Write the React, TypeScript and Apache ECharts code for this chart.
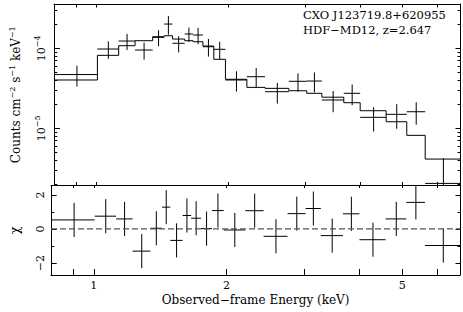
import React, { useEffect, useRef } from 'react';
import * as echarts from 'echarts';

// Energy bins (keV)
const binLo = [0.80, 1.005, 1.124, 1.225, 1.344, 1.428, 1.491, 1.590, 1.662, 1.750, 1.853, 1.970, 2.205, 2.426, 2.749, 3.02, 3.27, 3.67, 4.0, 4.585, 5.11, 5.63];
const binHi = [1.005, 1.124, 1.225, 1.344, 1.428, 1.491, 1.590, 1.662, 1.750, 1.853, 1.970, 2.205, 2.426, 2.749, 3.02, 3.27, 3.67, 4.0, 4.585, 5.11, 5.63, 6.76];
// Observed flux density (counts cm^-2 s^-1 keV^-1)
const flux = [4.7e-5, 9.8e-5, 1.233e-4, 9.52e-5, 1.372e-4, 2.01e-4, 1.155e-4, 1.51e-4, 1.466e-4, 1.047e-4, 9.72e-5, 4.02e-5, 4.42e-5, 2.87e-5, 3.87e-5, 3.9e-5, 2.26e-5, 2.74e-5, 1.372e-5, 1.496e-5, 1.612e-5, 2.05e-6];
const fluxErr = [1.37e-5, 2.41e-5, 2.8e-5, 2.3e-5, 3.1e-5, 5.3e-5, 2.65e-5, 3.1e-5, 3.4e-5, 2.6e-5, 2.37e-5, 1.14e-5, 1.24e-5, 0.83e-5, 1.0e-5, 1.09e-5, 0.67e-5, 0.79e-5, 0.46e-5, 0.51e-5, 0.5e-5, 2.17e-6];
// Folded model
const model = [4.02e-5, 8.17e-5, 1.078e-4, 1.245e-4, 1.396e-4, 1.437e-4, 1.306e-4, 1.245e-4, 1.209e-4, 1.068e-4, 7.29e-5, 4.1e-5, 3.25e-5, 3.16e-5, 2.95e-5, 2.74e-5, 2.45e-5, 2.09e-5, 1.66e-5, 1.209e-5, 8.17e-6, 4.13e-6];
// Residuals
const chi = [0.53, 0.75, 0.59, -1.30, 0.04, 1.28, -0.67, 0.79, 0.63, 0.02, 1.08, -0.06, 1.07, -0.43, 0.9, 1.2, -0.39, 0.89, -0.63, 0.59, 1.56, -0.97];
const chiErr = [1, 1, 1, 1, 1, 1, 1, 1, 1, 1, 1, 1, 1, 1, 1, 1, 1, 1, 1, 1, 1, 1];

// Axis ticks
const xTicks = [0.9, 1, 2, 3, 4, 5, 6];
const xLabels = [1, 2, 5];
const yMajor = [1e-5, 1e-4];
const yMinor = [2e-6, 3e-6, 4e-6, 5e-6, 6e-6, 7e-6, 8e-6, 9e-6, 2e-5, 3e-5, 4e-5, 5e-5, 6e-5, 7e-5, 8e-5, 9e-5, 2e-4, 3e-4];
const chiMajor = [-2, 0, 2];
const chiMinor = [-1, 1];

const X_MIN = 0.8;
const X_MAX = 6.76;
const Y_MIN = 1.93e-6;
const Y_MAX = 3.58e-4;
const C_MIN = -2.7;
const C_MAX = 2.55;

const FONT = 'DejaVu Serif';
const INK = '#000';

export default function App() {
  const ref = useRef<HTMLDivElement>(null);
  useEffect(() => {
    if (!ref.current) return;
    const chart = echarts.init(ref.current, null, { renderer: 'svg' });

    const grids = [
      { left: 51, top: 4, width: 409, height: 181.5 },
      { left: 51, top: 185.5, width: 409, height: 89.5 },
    ];

    const xAxis = (gridIndex: number, position: string, len: number, labels: boolean) => ({
      type: 'log', logBase: 10, gridIndex, position, min: X_MIN, max: X_MAX,
      axisLine: { show: true, onZero: false, lineStyle: { color: INK, width: 1 } },
      axisTick: { show: true, inside: true, length: len, customValues: xTicks, lineStyle: { color: INK, width: 1 } },
      axisLabel: labels
        ? { show: true, customValues: xLabels, margin: 5, fontFamily: FONT, fontSize: 11, color: INK, formatter: (v: number) => String(Math.round(v)) }
        : { show: false },
      splitLine: { show: false },
      minorTick: { show: false },
      ...(labels ? {
        name: 'Observed\u2212frame Energy (keV)', nameLocation: 'middle', nameGap: 19,
        nameTextStyle: { fontFamily: FONT, fontSize: 12, color: INK },
      } : {}),
    });

    const supRich = { s: { fontFamily: FONT, fontSize: 8, color: INK, verticalAlign: 'top', lineHeight: 6 } };

    const logY = (position: string, ticks: number[], len: number, line: boolean, labels: boolean) => ({
      type: 'log', logBase: 10, gridIndex: 0, position, min: Y_MIN, max: Y_MAX,
      axisLine: { show: line, onZero: false, lineStyle: { color: INK, width: 1 } },
      axisTick: { show: true, inside: true, length: len, customValues: ticks, lineStyle: { color: INK, width: 1 } },
      axisLabel: labels ? {
        show: true, customValues: yMajor, rotate: 90, margin: 5,
        fontFamily: FONT, fontSize: 11, color: INK, lineHeight: 16,
        formatter: (v: number) => `10{s|\u2212${-Math.round(Math.log10(v))}}`,
        rich: supRich,
      } : { show: false },
      splitLine: { show: false },
      ...(labels ? {
        name: 'Counts cm{s|\u22122} s{s|\u22121} keV{s|\u22121}', nameLocation: 'middle', nameRotate: 90, nameGap: 30,
        nameTextStyle: { fontFamily: FONT, fontSize: 12, color: INK, lineHeight: 16, rich: supRich },
      } : {}),
    });

    const chiY = (position: string, ticks: number[], len: number, line: boolean, labels: boolean) => ({
      type: 'value', gridIndex: 1, position, min: C_MIN, max: C_MAX,
      axisLine: { show: line, onZero: false, lineStyle: { color: INK, width: 1 } },
      axisTick: { show: true, inside: true, length: len, customValues: ticks, lineStyle: { color: INK, width: 1 } },
      axisLabel: labels ? {
        show: true, customValues: chiMajor, rotate: 90, margin: 5,
        fontFamily: FONT, fontSize: 11, color: INK,
        formatter: (v: number) => (v < 0 ? '\u2212' + Math.abs(v) : String(v)),
      } : { show: false },
      splitLine: { show: false },
      ...(labels ? {
        name: '\u03c7', nameLocation: 'middle', nameRotate: 90, nameGap: 30,
        nameTextStyle: { fontFamily: FONT, fontSize: 13, color: INK },
      } : {}),
    });

    const crossItem = (yMin: number) => (params: any, api: any) => {
      const lo = api.value(0), hi = api.value(1), y = api.value(2), e = api.value(3);
      const c = (lo + hi) / 2;
      const a = api.coord([lo, y]);
      const b = api.coord([hi, y]);
      const t = api.coord([c, y + e]);
      const bl = y - e > yMin ? y - e : yMin;
      const u = api.coord([c, bl]);
      const st = { stroke: INK, lineWidth: 1 };
      return {
        type: 'group',
        children: [
          { type: 'line', shape: { x1: a[0], y1: a[1], x2: b[0], y2: b[1] }, style: st },
          { type: 'line', shape: { x1: t[0], y1: t[1], x2: u[0], y2: u[1] }, style: st },
        ],
      };
    };

    const dataItems = binLo.map((lo, i) => [lo, binHi[i], flux[i], fluxErr[i]]);
    const chiItems = binLo.map((lo, i) => [lo, binHi[i], chi[i], chiErr[i]]);
    const modelPts = binLo.map((lo, i) => [lo, model[i]]);
    modelPts.push([binHi[binHi.length - 1], model[model.length - 1]]);

    chart.setOption({
      animation: false,
      backgroundColor: '#fff',
      grid: grids,
      xAxis: [
        xAxis(0, 'bottom', 3.5, false),
        xAxis(0, 'top', 3.5, false),
        xAxis(1, 'bottom', 6, true),
        xAxis(1, 'top', 2.5, false),
      ],
      yAxis: [
        logY('left', yMajor, 6, true, true),
        logY('left', yMinor, 3.3, false, false),
        logY('right', yMajor, 4.5, true, false),
        logY('right', yMinor, 2.5, false, false),
        chiY('left', chiMajor, 5.7, true, true),
        chiY('left', chiMinor, 3.3, false, false),
        chiY('right', chiMajor, 4.5, true, false),
        chiY('right', chiMinor, 2.5, false, false),
      ],
      graphic: [
        {
          type: 'text', left: 303, top: 7,
          style: {
            text: 'CXO J123719.8+620955\nHDF\u2212MD12, z=2.647',
            font: `11.5px "${FONT}"`, fill: INK, lineHeight: 15,
          },
        },
      ],
      series: [
        {
          type: 'line', name: 'model', xAxisIndex: 0, yAxisIndex: 0, step: 'end',
          data: modelPts, symbol: 'none', lineStyle: { color: INK, width: 1 }, silent: true,
        },
        {
          type: 'custom', name: 'data', xAxisIndex: 0, yAxisIndex: 0, clip: true,
          encode: { x: [0, 1], y: [2] }, data: dataItems, renderItem: crossItem(Y_MIN), silent: true,
        },
        {
          type: 'line', name: 'zero', xAxisIndex: 2, yAxisIndex: 4,
          data: [[X_MIN, 0], [X_MAX, 0]], symbol: 'none', silent: true,
          lineStyle: { color: '#555', width: 1.2, type: [6, 3] },
        },
        {
          type: 'custom', name: 'chi', xAxisIndex: 2, yAxisIndex: 4, clip: true,
          encode: { x: [0, 1], y: [2] }, data: chiItems, renderItem: crossItem(C_MIN), silent: true,
        },
      ],
    });
    return () => chart.dispose();
  }, []);
  return <div ref={ref} style={{ position: 'fixed', left: 0, top: 0, width: 463, height: 312, background: '#fff' }} />;
}
